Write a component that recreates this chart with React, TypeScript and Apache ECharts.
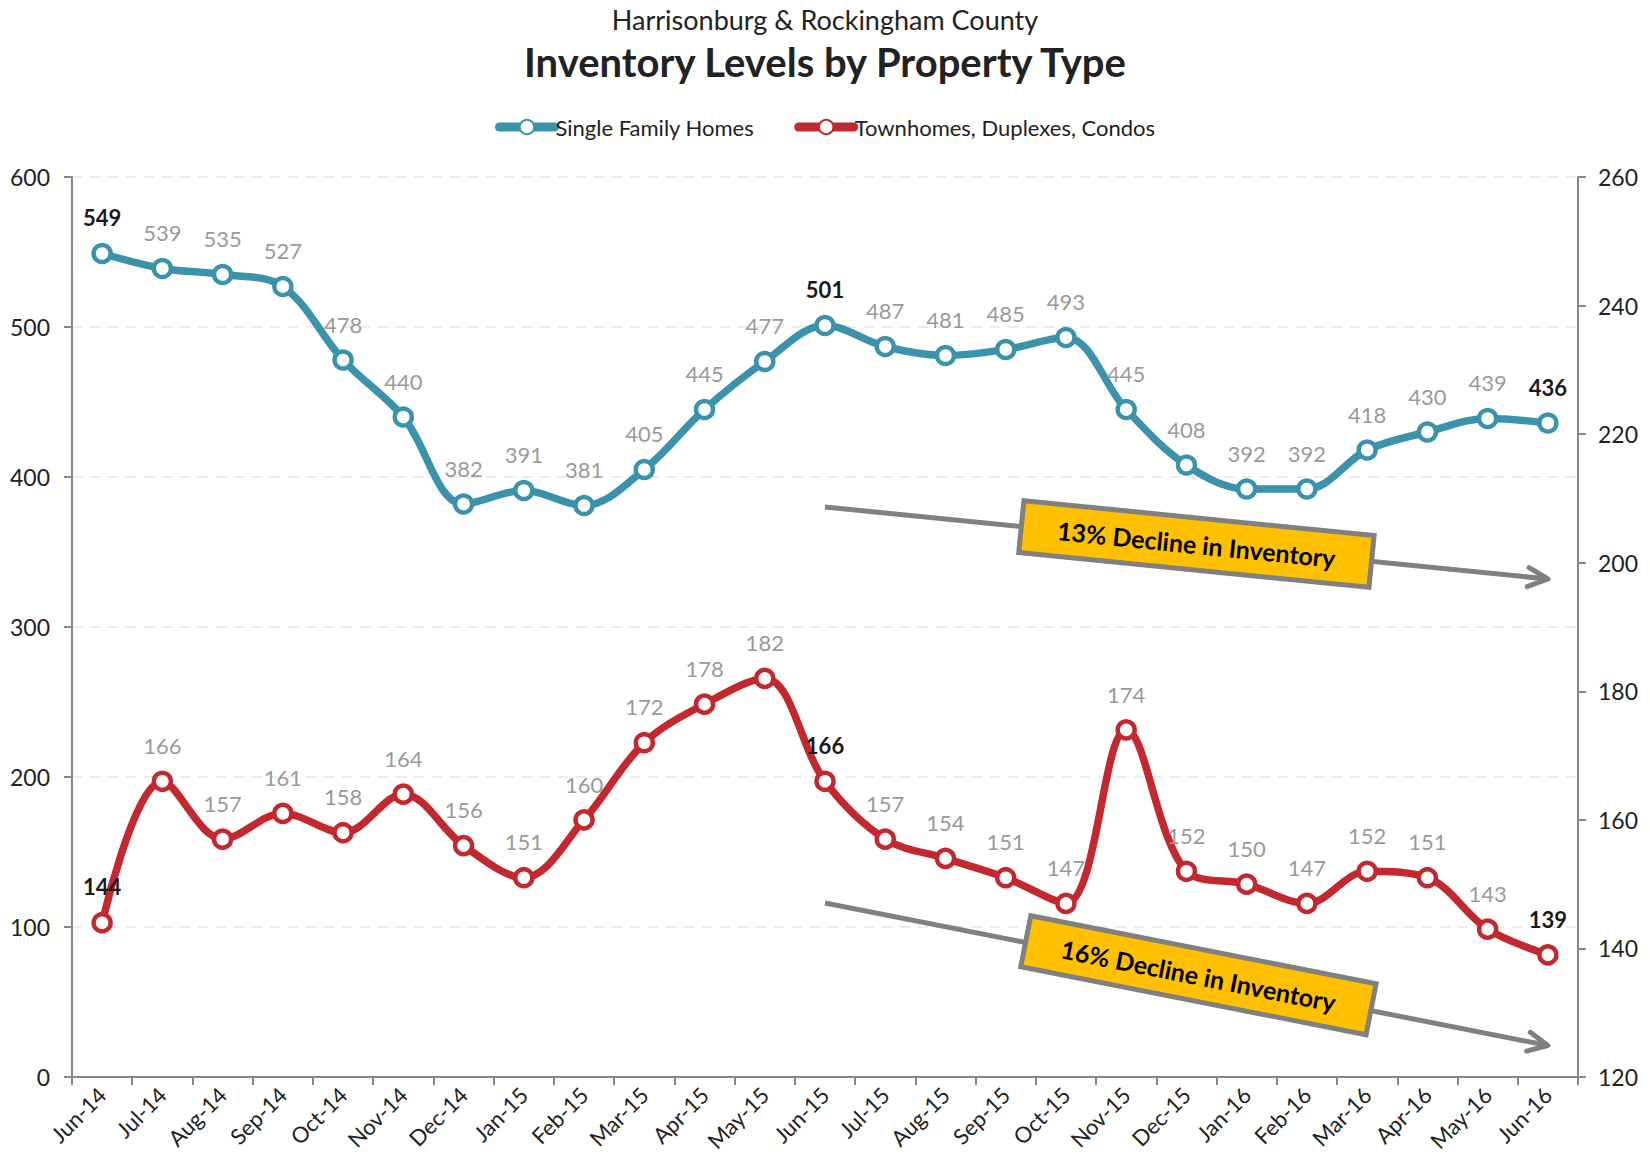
import React, { useEffect, useRef } from "react";
import * as echarts from "echarts";

const months = ["Jun-14","Jul-14","Aug-14","Sep-14","Oct-14","Nov-14","Dec-14","Jan-15","Feb-15","Mar-15","Apr-15","May-15","Jun-15","Jul-15","Aug-15","Sep-15","Oct-15","Nov-15","Dec-15","Jan-16","Feb-16","Mar-16","Apr-16","May-16","Jun-16"];
const singleFamily = [549,539,535,527,478,440,382,391,381,405,445,477,501,487,481,485,493,445,408,392,392,418,430,439,436];
const townhomes = [144,166,157,161,158,164,156,151,160,172,178,182,166,157,154,151,147,174,152,150,147,152,151,143,139];
const highlightIdx = [0, 12, 24];
const subtitle = "Harrisonburg & Rockingham County";
const mainTitle = "Inventory Levels by Property Type";
const note1 = "13% Decline in Inventory";
const note2 = "16% Decline in Inventory";

const FONT = "Lato";
const BLUE = "#3A93AA";
const RED = "#C3282E";
const GREY = "#808080";

function mkData(vals: number[]) {
  return vals.map((v, i) => {
    const hi = highlightIdx.includes(i);
    return {
      value: v,
      label: hi ? { color: "#1a1a1a", fontWeight: "bold", fontSize: 22 } : undefined,
    };
  });
}

function arrowGraphics(x1: number, y1: number, x2: number, y2: number, cx: number, cy: number, w: number, h: number, text: string) {
  const ang = Math.atan2(y2 - y1, x2 - x1);
  const hl = 22;
  const a1 = ang + Math.PI - 0.45;
  const a2 = ang + Math.PI + 0.45;
  return [
    { type: "line", shape: { x1, y1, x2, y2 }, style: { stroke: GREY, lineWidth: 5 }, z: 10 },
    {
      type: "polyline",
      shape: { points: [[x2 + hl * Math.cos(a1), y2 + hl * Math.sin(a1)], [x2, y2], [x2 + hl * Math.cos(a2), y2 + hl * Math.sin(a2)]] },
      style: { stroke: GREY, lineWidth: 5, fill: null, lineCap: "round", lineJoin: "round" },
      z: 10,
    },
    {
      type: "group",
      x: cx,
      y: cy,
      rotation: -ang,
      z: 11,
      children: [
        { type: "rect", shape: { x: -w / 2, y: -h / 2, width: w, height: h }, style: { fill: "#FFC000", stroke: GREY, lineWidth: 5 }, z: 11 },
        { type: "text", x: 0, y: 0, style: { text, fill: "#000", font: `bold 25px ${FONT}`, align: "center", verticalAlign: "middle" }, z: 12 },
      ],
    },
  ];
}

export default function App() {
  const ref = useRef<HTMLDivElement>(null);
  useEffect(() => {
    if (!ref.current) return;
    const chart = echarts.init(ref.current, null, { renderer: "svg" });
    const labelBase = { show: true, position: "top", distance: 14, color: "#9a9a9a", fontSize: 22, fontFamily: FONT };
    chart.setOption({
      animation: false,
      backgroundColor: "#fff",
      textStyle: { fontFamily: FONT },
      title: [
        { text: subtitle, left: "center", top: 3, padding: 0, textStyle: { fontFamily: FONT, fontSize: 27, lineHeight: 32, fontWeight: "normal", color: "#222" } },
        { text: mainTitle, left: "center", top: 42, padding: 0, textStyle: { fontFamily: FONT, fontSize: 40, fontWeight: "bold", color: "#222" } },
      ],
      legend: {
        top: 111,
        left: "center",
        itemWidth: 55,
        itemHeight: 18,
        itemGap: 40,
        textStyle: { fontFamily: FONT, fontSize: 22, color: "#222", padding: [0, 0, 0, -4] },
        lineStyle: { width: 9, cap: "round" },
        data: ["Single Family Homes", "Townhomes, Duplexes, Condos"],
      },
      grid: { left: 72, right: 72, top: 177, bottom: 88, containLabel: false },
      xAxis: {
        type: "category",
        data: months,
        boundaryGap: true,
        axisLine: { lineStyle: { color: "#868686", width: 2 } },
        axisTick: { show: true, length: 8, lineStyle: { color: "#868686", width: 2 } },
        axisLabel: { rotate: 45, fontSize: 22, color: "#222", fontFamily: FONT, margin: 14 },
      },
      yAxis: [
        {
          type: "value", min: 0, max: 600, interval: 100,
          axisLine: { show: true, lineStyle: { color: "#868686", width: 2 } },
          axisTick: { show: true, length: 8, lineStyle: { color: "#868686", width: 2 } },
          axisLabel: { fontSize: 23, color: "#222", fontFamily: FONT, margin: 22 },
          splitLine: { show: true, lineStyle: { color: "#e6e6e6", type: [10, 8], width: 1.5 } },
        },
        {
          type: "value", min: 120, max: 260, interval: 20, position: "right",
          axisLine: { show: true, lineStyle: { color: "#868686", width: 2 } },
          axisTick: { show: true, length: 8, lineStyle: { color: "#868686", width: 2 } },
          axisLabel: { fontSize: 23, color: "#222", fontFamily: FONT, margin: 20 },
          splitLine: { show: false },
        },
      ],
      series: [
        {
          name: "Single Family Homes", type: "line", yAxisIndex: 0, smooth: 0.35,
          data: mkData(singleFamily),
          symbol: "circle", symbolSize: 17, showAllSymbol: true,
          lineStyle: { color: BLUE, width: 7.5 },
          itemStyle: { color: "#fff", borderColor: BLUE, borderWidth: 4.5 },
          label: labelBase,
        },
        {
          name: "Townhomes, Duplexes, Condos", type: "line", yAxisIndex: 1, smooth: 0.35,
          data: mkData(townhomes),
          symbol: "circle", symbolSize: 17, showAllSymbol: true,
          lineStyle: { color: RED, width: 7.5 },
          itemStyle: { color: "#fff", borderColor: RED, borderWidth: 4.5 },
          label: labelBase,
        },
      ],
    });
    const p = (i: number, v: number) => chart.convertToPixel({ xAxisIndex: 0, yAxisIndex: 0 }, [i, v]) as number[];
    const s1 = p(12.2, 380), e1 = p(24.1, 332);
    const s2 = p(12.2, 116), e2 = p(23.9, 21);
    const c1 = [(s1[0] + e1[0]) / 2 + 10, (s1[1] + e1[1]) / 2 + 1];
    const c2 = [(s2[0] + e2[0]) / 2 + 12, (s2[1] + e2[1]) / 2 + 1];
    chart.setOption({
      graphic: [
        ...arrowGraphics(s1[0], s1[1], e1[0], e1[1], c1[0], c1[1], 352, 52, note1),
        ...arrowGraphics(s2[0], s2[1], e2[0], e2[1], c2[0], c2[1], 352, 52, note2),
      ],
    });
    return () => chart.dispose();
  }, []);
  return <div ref={ref} style={{ position: "absolute", left: 0, top: 0, width: 1650, height: 1165 }} />;
}
